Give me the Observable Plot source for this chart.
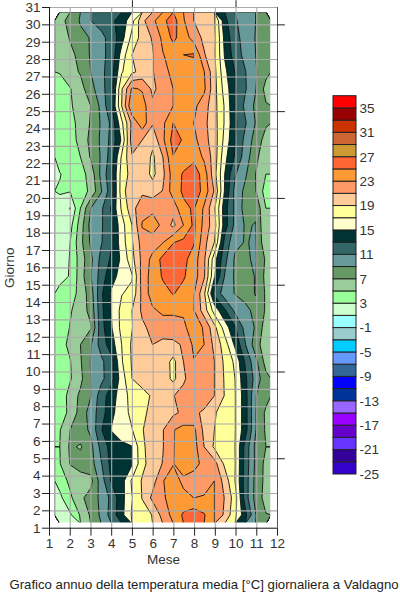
<!DOCTYPE html>
<html>
<head>
<meta charset="utf-8">
<script src="https://cdn.jsdelivr.net/npm/d3@7"></script>
<script src="https://cdn.jsdelivr.net/npm/@observablehq/plot@0.6"></script>
<style>
html,body{margin:0;padding:0;background:#fff}
#wrap{position:relative;width:400px;height:594px;overflow:hidden;font-family:"Liberation Sans",Arial,sans-serif;color:#333}
#chart,#legend{position:absolute;top:0}
#chart{left:0}
#legend{left:320px;top:85px}
#caption{position:absolute;left:0;width:408px;top:577px;text-align:center;font-size:13.2px;white-space:nowrap;color:#222}
svg{display:block;background:transparent}
</style>
</head>
<body>
<div id="wrap"><div id="chart"></div><div id="legend"></div><div id="caption">Grafico annuo della temperatura media [°C] giornaliera a Valdagno</div></div>
<script>
// Temperature, one row per day-step from the top (late days) to the bottom (early days),
// 21 samples per row from January to December.
const r00=[6.3,7.7,9.2,11,11.8,12.6,13.8,16.3,20.5,22.5,24.5,26,23.2,21,20,19.2,13.6,11.2,10.2,9,7.2];
const r01=[5.5,7.2,8.5,9.1,10.4,11.8,14.2,17.6,19.8,21.2,23.5,25.5,24,22.2,20.5,19.5,14.4,11.6,10.3,8.9,7.3];
const r02=[5.3,6.4,7.7,9.2,10.6,11.5,15.8,19,19.9,20.8,22.9,23.8,25,25.2,21.2,19.3,14.8,12,10.4,9,7.4];
const r03=[5.1,6.2,7.2,9,10.5,12,16.8,18.6,19.7,20.9,22,23.8,24.2,24,23.1,19.6,15.5,13,11.1,9.2,7.6];
const r04=[4.2,4.9,6.2,8.3,10.2,12.4,18.8,23.3,22.8,20.6,21.8,23,24,24.4,23.4,19.7,16.2,13.2,11.2,9.1,6.3];
const r05=[4,4.8,5.7,7,9.5,12.8,19,24.8,23.9,21.4,21.8,23,24,23.5,21.9,19.7,16.8,13.1,10.5,8.6,7.2];
const r06=[3.9,4.6,5.4,7.2,9.2,11.4,16.5,21.5,24.2,21.2,22.6,25,24,23,21.5,19.8,16.8,13.4,11.2,8.9,7.3];
const r07=[3.2,4.3,5.5,7.6,9.3,11.6,15.3,22,21,19.6,22.6,25.8,24.8,23.6,21.7,20,16.4,13.2,10.4,8.2,6.2];
const r08=[4,4.4,5,7.2,9.2,12,17.3,20.8,20.6,18.6,21,24.9,24,24.5,22.6,20.1,15.6,12.8,10,7.6,5.4];
const r09=[2.9,3.7,4.2,5.8,9.5,12.6,17.8,19.8,20.2,18.5,20.5,24,25.2,26,24.2,19.7,15,11.2,9.3,7,5];
const r10=[3.2,3.1,4.1,5.4,8.8,12.2,18,20.8,20.6,20,21.1,24,25.3,26.3,24.3,20.8,14.8,10.4,8.5,7.1,4];
const r11=[2.2,0.9,5,9,10.6,13.2,17.3,20.3,22.3,22.5,22.5,21.8,24.6,25.2,22.7,19.3,13.8,10.6,8.2,8.6,5];
const r12=[2.2,2.3,6,9.7,10.7,12.7,16.2,19,23.2,24,22.5,20.5,23,25.4,22.4,19.8,13.9,10.5,8.8,9.1,5];
const r13=[2.1,3,6.4,9.3,10.8,12.8,16,18.8,21.9,22,22.9,24.9,25.5,25.2,21.7,19,12.4,9.5,8.9,9.2,5.4];
const r14=[2,3.1,5.9,8.5,11.6,13.3,15.4,18.3,21.6,23.6,25.6,26.3,25.6,24,21.4,15.8,11.6,8.7,8.8,9.2,6.7];
const r15=[2.5,3.1,6,8.9,11.9,14.4,15.6,16.8,21.9,23.8,25.2,26.1,25.2,24,21.3,15.2,10.9,8.7,8.3,9.1,6.4];
const r16=[3.5,4,5.7,8,12.6,15.2,16.9,17.5,21.6,24,24.4,25.1,24.4,23.2,19.4,12.5,10,8.9,8.2,9.1,6.7];
const r17=[3.8,4.8,6,7.6,12.4,15.1,17.6,19,21.4,22.7,23.4,23.4,23.3,23.1,20,16.2,13.3,10.6,9.6,8.4,6.8];
const r18=[3.6,5.1,5.9,6.8,12.2,14.8,17.6,18.9,20.6,21.6,22,22,22.6,24,22.8,19.6,16.1,13.2,10.3,8.8,6];
const r19=[4.2,5.5,7,8.8,11.9,14,17,19.3,20.2,21,20.5,20.6,21.2,23.4,23,20.5,18,14.6,11.1,7.9,5.8];
const r20=[3.7,4.9,6.8,9.1,10.5,12.4,16.8,19.2,20,20.4,20.2,18.4,21,22.9,22,21,18.6,16.6,12.7,9.6,6.2];
const r21=[4,4.8,6.5,9,10.4,12.4,16,19,20,20.3,20.2,18.5,20.6,22.4,22.2,21,18.8,17,13.4,10.2,7.6];
const r22=[3.6,5.8,7.4,8.9,12.1,13.9,16.2,17.6,18.2,19.3,19.8,20.9,21.8,22.8,22.8,21,18.9,17.1,13.8,9.1,7.8];
const r23=[3.6,5.7,7.7,9.9,12,14.5,16.1,17.5,18.7,19.4,20.1,20.6,21.4,21.6,20.5,19.2,18.1,17.1,13.8,9.1,6.6];
const r24=[4.9,7,8,9.4,12.8,15.1,16.1,16.9,18.9,19.9,20.9,22.9,23.6,23.5,20.5,19,18,17.1,13.8,9.1,6.7];
const r25=[5,7.3,6.8,8.4,11.6,13.8,14.5,14.9,18.7,19.8,20.9,22.9,23.8,23.9,21,18.7,18,17,12.3,8.5,7];
const r26=[4.9,7.1,7.9,8.1,10.8,13.6,14.2,14.8,18.5,19.9,21.1,22.9,24.3,23.7,22.4,21.8,18.6,17.1,12.2,8.6,6.4];
const r27=[3.8,5.5,6,6.4,10,13.2,14.2,17.3,19.2,20.2,22.9,24,22.5,22,22,23,20.2,17,12,8.4,6.4];
const r28=[2.5,4.6,6.6,7.8,9.5,11.5,14.3,16.9,19.1,21.5,22.6,24.2,23.6,23,23.2,23,20.9,18,12,8.3,6.2];
const r29=[1,2.7,5.2,7.3,9.4,11.8,14.4,17.2,18,19.1,21.8,23.6,25.3,26.2,25.2,23,20.6,17.5,13.6,9.1,7.1];
const rows=[r00,r01,r02,r03,r04,r05,r06,r07,r08,r09,r10,r11,r12,r13,r14,r15,r16,r17,r18,r19,r20,r21,r22,r23,r24,r25,r26,r27,r28,r29];

// Colour bands, 2 degrees each, lowest first
const bandColors=["#3300cc","#330099","#6633ff","#6600cc","#9900ff","#9966ff","#003399","#0000ff","#336699","#6699ff","#00ccff","#99cccc","#99ffff","#ccffcc","#99ff99","#99cc99","#669966","#669999","#336666","#003333","#ffffcc","#ffff99","#ffcc99","#ff9966","#ff9933","#ff6633","#cc9933","#cc6633","#cc3300","#990000","#ff0000"];
const bandStarts=d3.range(-25,37,2);
const legendLabels=d3.range(-25,36,4);
const months=d3.range(1,13);
const days=d3.range(1,32);
const majorMonths=[5,10];
const majorDays=[5,10,15,20,25,30];

// Extent of the computed field on the month/day axes
const monthExtent=[1.27,11.67];
const dayExtent=[1.3,30.7];

const font={fontFamily:'"Liberation Sans",Arial,sans-serif',fontSize:"13.5px",color:"#333",background:"transparent"};
const colorScale={type:"threshold",domain:bandStarts.slice(1),range:bandColors};

const masks=[
  {x1:1,x2:monthExtent[0],y1:1,y2:31},
  {x1:monthExtent[1],x2:12,y1:1,y2:31},
  {x1:1,x2:12,y1:1,y2:dayExtent[0]},
  {x1:1,x2:12,y1:dayExtent[1],y2:31}
];

const chart=Plot.plot({
  width:400,height:572,marginLeft:49,marginRight:123,marginTop:7,marginBottom:44.3,
  style:font,
  x:{domain:[1,12]},
  y:{domain:[1,31]},
  color:colorScale,
  marks:[
    Plot.contour(rows.flat(),{
      width:r00.length,height:rows.length,
      x1:monthExtent[0]-0.02,x2:monthExtent[1]+0.02,y1:dayExtent[1]+0.03,y2:dayExtent[0]-0.03,
      value:Plot.identity,fill:"value",
      thresholds:bandStarts,
      stroke:"#111",strokeWidth:0.9
    }),
    Plot.rect(masks,{x1:"x1",x2:"x2",y1:"y1",y2:"y2",fill:"#fff"}),
    Plot.ruleX(months.slice(1,-1),{stroke:"#aaa",strokeWidth:1.1}),
    Plot.ruleY(days.slice(1),{stroke:"#aaa",strokeWidth:1.1}),
    Plot.ruleX([12],{stroke:"#555",strokeWidth:1}),
    Plot.ruleX([1],{stroke:"#111",strokeWidth:1}),
    Plot.ruleY([1],{stroke:"#111",strokeWidth:1}),
    Plot.ruleX(majorMonths,{y1:31,y2:31.39,stroke:"#222",clip:false}),
    Plot.ruleY(majorDays,{x1:12,x2:12.38,stroke:"#222",clip:false}),
    Plot.axisX({ticks:months,tickSize:8,tickPadding:2,tickFormat:d=>String(d),label:"Mese",labelAnchor:"center",labelArrow:"none",labelOffset:36,stroke:"#222",color:"#333"}),
    Plot.axisY({ticks:days,tickSize:7,tickPadding:2,tickFormat:d=>String(d),label:"Giorno",labelAnchor:"center",labelArrow:"none",labelOffset:45,stroke:"#222",color:"#333"})
  ]
});
document.getElementById("chart").appendChild(chart);

const legend=Plot.plot({
  width:72,height:400,marginLeft:13,marginRight:36,marginTop:10.7,marginBottom:11,
  style:font,
  x:{domain:[0,1],axis:null},
  y:{domain:[-25,37]},
  marks:[
    Plot.rect(bandStarts,{x1:0,x2:1,y1:d=>d,y2:d=>d+2,fill:(d,i)=>bandColors[i],stroke:"#222",strokeWidth:1}),
    Plot.axisY({anchor:"right",ticks:legendLabels,tickSize:0,tickPadding:3,tickFormat:d=>String(d),label:null,color:"#333"})
  ]
});
document.getElementById("legend").appendChild(legend);
</script>
</body>
</html>
